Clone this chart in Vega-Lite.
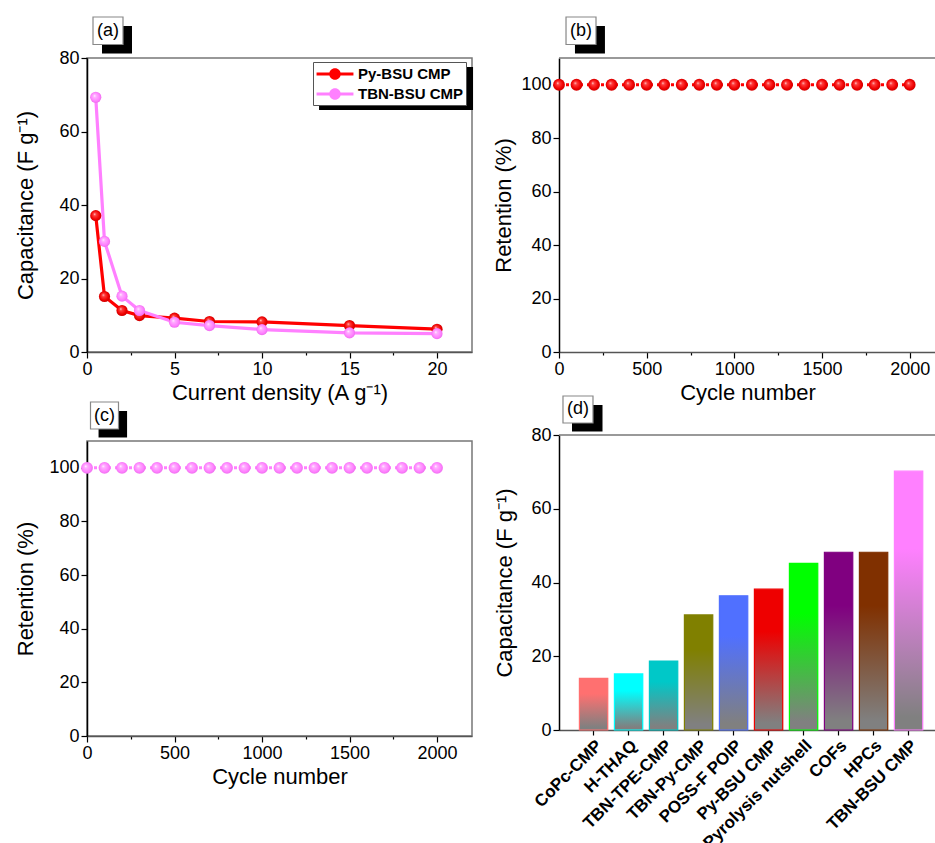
{
  "$schema": "https://vega.github.io/schema/vega-lite/v6.json",
  "padding": {"left": 14, "top": 15, "right": 0, "bottom": 0},
  "config": {
    "font": "Liberation Sans",
    "view": {"stroke": "#777", "strokeWidth": 1.5},
    "axis": {"grid": false, "labelFont": "Liberation Sans", "labelFontSize": 18, "labelColor": "#000", "titleFont": "Liberation Sans", "titleFontSize": 22, "titleFontWeight": "normal", "titleColor": "#000", "tickColor": "#000", "domainColor": "#000", "domainWidth": 1.5, "tickWidth": 1.2, "labelPadding": 2, "labelFlush": false, "labelOverlap": false},
    "axisX": {"domainColor": "#555", "titlePadding": 4}
  },
  "resolve": {"scale": {"color": "independent", "stroke": "independent", "fill": "independent"}, "legend": {"color": "independent"}},
  "datasets": {
    "rate": [
      {"cur": 0.5, "cap": 37.1, "series": "Py-BSU CMP"},
      {"cur": 1, "cap": 15.1, "series": "Py-BSU CMP"},
      {"cur": 2, "cap": 11.3, "series": "Py-BSU CMP"},
      {"cur": 3, "cap": 9.9, "series": "Py-BSU CMP"},
      {"cur": 5, "cap": 9.2, "series": "Py-BSU CMP"},
      {"cur": 7, "cap": 8.3, "series": "Py-BSU CMP"},
      {"cur": 10, "cap": 8.2, "series": "Py-BSU CMP"},
      {"cur": 15, "cap": 7.2, "series": "Py-BSU CMP"},
      {"cur": 20, "cap": 6.2, "series": "Py-BSU CMP"},
      {"cur": 0.5, "cap": 69.3, "series": "TBN-BSU CMP"},
      {"cur": 1, "cap": 30.1, "series": "TBN-BSU CMP"},
      {"cur": 2, "cap": 15.2, "series": "TBN-BSU CMP"},
      {"cur": 3, "cap": 11.3, "series": "TBN-BSU CMP"},
      {"cur": 5, "cap": 8.1, "series": "TBN-BSU CMP"},
      {"cur": 7, "cap": 7.2, "series": "TBN-BSU CMP"},
      {"cur": 10, "cap": 6.1, "series": "TBN-BSU CMP"},
      {"cur": 15, "cap": 5.2, "series": "TBN-BSU CMP"},
      {"cur": 20, "cap": 5.0, "series": "TBN-BSU CMP"}
    ],
    "cyc": [
      {"cycle": 0, "ret": 100}, {"cycle": 100, "ret": 100}, {"cycle": 200, "ret": 100}, {"cycle": 300, "ret": 100},
      {"cycle": 400, "ret": 100}, {"cycle": 500, "ret": 100}, {"cycle": 600, "ret": 100}, {"cycle": 700, "ret": 100},
      {"cycle": 800, "ret": 100}, {"cycle": 900, "ret": 100}, {"cycle": 1000, "ret": 100}, {"cycle": 1100, "ret": 100},
      {"cycle": 1200, "ret": 100}, {"cycle": 1300, "ret": 100}, {"cycle": 1400, "ret": 100}, {"cycle": 1500, "ret": 100},
      {"cycle": 1600, "ret": 100}, {"cycle": 1700, "ret": 100}, {"cycle": 1800, "ret": 100}, {"cycle": 1900, "ret": 100},
      {"cycle": 2000, "ret": 100}
    ],
    "bars": [
      {"material": "CoPc-CMP", "cap": 14.0},
      {"material": "H-THAQ", "cap": 15.2},
      {"material": "TBN-TPE-CMP", "cap": 18.7},
      {"material": "TBN-Py-CMP", "cap": 31.2},
      {"material": "POSS-F POIP", "cap": 36.4},
      {"material": "Py-BSU CMP", "cap": 38.2},
      {"material": "Pyrolysis nutshell", "cap": 45.2},
      {"material": "COFs", "cap": 48.2},
      {"material": "HPCs", "cap": 48.2},
      {"material": "TBN-BSU CMP", "cap": 70.2}
    ],
    "one": [{}]
  },
  "spacing": 18,
  "hconcat": [
    {
      "spacing": -4,
      "vconcat": [
        {
          "width": 385, "height": 294,
          "layer": [
            {
              "data": {"name": "rate"},
              "mark": {"type": "line", "strokeWidth": 3.2},
              "encoding": {
                "x": {"field": "cur", "type": "quantitative", "scale": {"domain": [0, 22]},
                  "axis": {"title": "Current density (A g⁻¹)", "values": [0, 2.5, 5, 7.5, 10, 12.5, 15, 17.5, 20], "labelExpr": "datum.value % 5 === 0 ? datum.label : ''", "tickSize": {"condition": {"test": "datum.value % 5 !== 0", "value": 3}, "value": 6}}},
                "y": {"field": "cap", "type": "quantitative", "scale": {"domain": [0, 80]},
                  "axis": {"title": "Capacitance (F g⁻¹)", "titlePadding": 21, "values": [0, 10, 20, 30, 40, 50, 60, 70, 80], "labelExpr": "datum.value % 20 === 0 ? datum.label : ''", "tickSize": {"condition": {"test": "datum.value % 20 !== 0", "value": 3}, "value": 6}}},
                "color": {"field": "series", "type": "nominal", "scale": {"domain": ["Py-BSU CMP", "TBN-BSU CMP"], "range": ["#ff0000", "#ff80ff"]},
                  "legend": {"title": null, "orient": "none", "legendX": 226, "legendY": 4, "symbolType": "M-2.05,-0.17H2.05V0.17H-2.05Z M-0.64,0A0.64,0.64,0,1,1,0.64,0A0.64,0.64,0,1,1,-0.64,0Z", "symbolSize": 324, "symbolStrokeWidth": 0, "symbolOffset": 10, "labelOffset": 14, "labelFont": "Liberation Sans", "labelFontSize": 15, "labelFontWeight": "bold", "labelColor": "#000", "strokeColor": "#555", "fillColor": "#fff", "padding": 3, "rowPadding": 3,
                    "encode": {"symbols": {"update": {"fill": {"signal": "datum.value === 'Py-BSU CMP' ? '#ff0000' : '#ff80ff'"}, "opacity": {"value": 1}}}}}}
              }
            },
            {
              "data": {"name": "rate"},
              "mark": {"type": "point", "filled": true, "size": 125, "opacity": 1, "strokeWidth": 0},
              "encoding": {
                "x": {"field": "cur", "type": "quantitative", "scale": {"domain": [0, 22]}},
                "y": {"field": "cap", "type": "quantitative", "scale": {"domain": [0, 80]}},
                "fill": {"condition": {"test": "datum.series === 'Py-BSU CMP'", "value": {"gradient": "radial", "x1": 0.38, "y1": 0.35, "r1": 0, "x2": 0.5, "y2": 0.5, "r2": 0.55, "stops": [{"offset": 0, "color": "#ffe0e0"}, {"offset": 0.22, "color": "#ff4040"}, {"offset": 0.7, "color": "#f00000"}, {"offset": 1, "color": "#c00000"}]}},
                  "value": {"gradient": "radial", "x1": 0.38, "y1": 0.35, "r1": 0, "x2": 0.5, "y2": 0.5, "r2": 0.55, "stops": [{"offset": 0, "color": "#ffffff"}, {"offset": 0.22, "color": "#ffb0ff"}, {"offset": 0.7, "color": "#ff80ff"}, {"offset": 1, "color": "#e868e8"}]}}
              }
            },
            {
              "data": {"name": "one"},
              "mark": {"type": "rect", "fill": "#000"},
              "encoding": {"x": {"datum": 13.26, "type": "quantitative", "scale": {"domain": [0, 22]}}, "x2": {"datum": 22.06}, "y": {"datum": 77.55, "type": "quantitative", "scale": {"domain": [0, 80]}}, "y2": {"datum": 65.85}}
            },
            {
              "data": {"name": "one"},
              "mark": {"type": "rect", "fill": "#000"},
              "encoding": {"x": {"datum": 0.857, "type": "quantitative", "scale": {"domain": [0, 22]}}, "x2": {"datum": 2.571}, "y": {"datum": 88.71, "type": "quantitative", "scale": {"domain": [0, 80]}}, "y2": {"datum": 81.22}}
            },
            {
              "data": {"name": "one"},
              "mark": {"type": "rect", "fill": "#fff", "stroke": "#888", "strokeWidth": 1.2},
              "encoding": {"x": {"datum": 0.343, "type": "quantitative", "scale": {"domain": [0, 22]}}, "x2": {"datum": 2.057}, "y": {"datum": 91.16, "type": "quantitative", "scale": {"domain": [0, 80]}}, "y2": {"datum": 83.67}}
            },
            {
              "data": {"name": "one"},
              "mark": {"type": "text", "text": "(a)", "font": "Liberation Sans", "fontSize": 18, "align": "center", "baseline": "middle", "color": "#000"},
              "encoding": {"x": {"datum": 1.2, "type": "quantitative", "scale": {"domain": [0, 22]}}, "y": {"datum": 87.35, "type": "quantitative", "scale": {"domain": [0, 80]}}}
            }
          ]
        },
        {
          "width": 385, "height": 295,
          "layer": [
            {
              "data": {"name": "cyc"},
              "mark": {"type": "line", "strokeWidth": 3, "strokeDash": [3, 4], "color": "#ff80ff"},
              "encoding": {
                "x": {"field": "cycle", "type": "quantitative", "scale": {"domain": [0, 2200]},
                  "axis": {"title": "Cycle number", "format": "d", "values": [0, 250, 500, 750, 1000, 1250, 1500, 1750, 2000], "labelExpr": "datum.value % 500 === 0 ? datum.label : ''", "tickSize": {"condition": {"test": "datum.value % 500 !== 0", "value": 3}, "value": 6}}},
                "y": {"field": "ret", "type": "quantitative", "scale": {"domain": [0, 110]},
                  "axis": {"title": "Retention (%)", "titlePadding": 11, "values": [0, 10, 20, 30, 40, 50, 60, 70, 80, 90, 100], "labelExpr": "datum.value % 20 === 0 ? datum.label : ''", "tickSize": {"condition": {"test": "datum.value % 20 !== 0", "value": 3}, "value": 6}}}
              }
            },
            {
              "data": {"name": "cyc"},
              "mark": {"type": "point", "filled": true, "size": 140, "opacity": 1, "strokeWidth": 0,
                "fill": {"gradient": "radial", "x1": 0.38, "y1": 0.35, "r1": 0, "x2": 0.5, "y2": 0.5, "r2": 0.55, "stops": [{"offset": 0, "color": "#ffffff"}, {"offset": 0.22, "color": "#ffb0ff"}, {"offset": 0.7, "color": "#ff80ff"}, {"offset": 1, "color": "#e868e8"}]}},
              "encoding": {
                "x": {"field": "cycle", "type": "quantitative", "scale": {"domain": [0, 2200]}},
                "y": {"field": "ret", "type": "quantitative", "scale": {"domain": [0, 110]}}
              }
            },
            {
              "data": {"name": "one"},
              "mark": {"type": "rect", "fill": "#000"},
              "encoding": {"x": {"datum": 66, "type": "quantitative", "scale": {"domain": [0, 2200]}}, "x2": {"datum": 229}, "y": {"datum": 121.19, "type": "quantitative", "scale": {"domain": [0, 110]}}, "y2": {"datum": 111.31}}
            },
            {
              "data": {"name": "one"},
              "mark": {"type": "rect", "fill": "#fff", "stroke": "#888", "strokeWidth": 1.2},
              "encoding": {"x": {"datum": 20, "type": "quantitative", "scale": {"domain": [0, 2200]}}, "x2": {"datum": 180}, "y": {"datum": 124.54, "type": "quantitative", "scale": {"domain": [0, 110]}}, "y2": {"datum": 114.47}}
            },
            {
              "data": {"name": "one"},
              "mark": {"type": "text", "text": "(c)", "font": "Liberation Sans", "fontSize": 18, "align": "center", "baseline": "middle", "color": "#000"},
              "encoding": {"x": {"datum": 100, "type": "quantitative", "scale": {"domain": [0, 2200]}}, "y": {"datum": 119.5, "type": "quantitative", "scale": {"domain": [0, 110]}}}
            }
          ]
        }
      ]
    },
    {
      "spacing": -8,
      "vconcat": [
        {
          "width": 377, "height": 294,
          "view": {"stroke": null},
          "layer": [
            {
              "data": {"name": "one"},
              "mark": {"type": "rule", "color": "#777", "strokeWidth": 1.5},
              "encoding": {"y": {"datum": 110, "type": "quantitative", "scale": {"domain": [0, 110]}}}
            },
            {
              "data": {"name": "cyc"},
              "mark": {"type": "line", "strokeWidth": 3, "strokeDash": [3, 4], "color": "#ff0000"},
              "encoding": {
                "x": {"field": "cycle", "type": "quantitative", "scale": {"domain": [0, 2150]},
                  "axis": {"title": "Cycle number", "format": "d", "values": [0, 250, 500, 750, 1000, 1250, 1500, 1750, 2000], "labelExpr": "datum.value % 500 === 0 ? datum.label : ''", "tickSize": {"condition": {"test": "datum.value % 500 !== 0", "value": 3}, "value": 6}}},
                "y": {"field": "ret", "type": "quantitative", "scale": {"domain": [0, 110]},
                  "axis": {"title": "Retention (%)", "titlePadding": 5, "values": [0, 10, 20, 30, 40, 50, 60, 70, 80, 90, 100], "labelExpr": "datum.value % 20 === 0 ? datum.label : ''", "tickSize": {"condition": {"test": "datum.value % 20 !== 0", "value": 3}, "value": 6}}}
              }
            },
            {
              "data": {"name": "cyc"},
              "mark": {"type": "point", "filled": true, "size": 140, "opacity": 1, "strokeWidth": 0,
                "fill": {"gradient": "radial", "x1": 0.38, "y1": 0.35, "r1": 0, "x2": 0.5, "y2": 0.5, "r2": 0.55, "stops": [{"offset": 0, "color": "#ffe0e0"}, {"offset": 0.22, "color": "#ff4040"}, {"offset": 0.7, "color": "#f00000"}, {"offset": 1, "color": "#c00000"}]}},
              "encoding": {
                "x": {"field": "cycle", "type": "quantitative", "scale": {"domain": [0, 2150]}},
                "y": {"field": "ret", "type": "quantitative", "scale": {"domain": [0, 110]}}
              }
            },
            {
              "data": {"name": "one"},
              "mark": {"type": "rect", "fill": "#000"},
              "encoding": {"x": {"datum": 91, "type": "quantitative", "scale": {"domain": [0, 2150]}}, "x2": {"datum": 262}, "y": {"datum": 121.97, "type": "quantitative", "scale": {"domain": [0, 110]}}, "y2": {"datum": 111.68}}
            },
            {
              "data": {"name": "one"},
              "mark": {"type": "rect", "fill": "#fff", "stroke": "#888", "strokeWidth": 1.2},
              "encoding": {"x": {"datum": 40, "type": "quantitative", "scale": {"domain": [0, 2150]}}, "x2": {"datum": 211}, "y": {"datum": 125.34, "type": "quantitative", "scale": {"domain": [0, 110]}}, "y2": {"datum": 115.05}}
            },
            {
              "data": {"name": "one"},
              "mark": {"type": "text", "text": "(b)", "font": "Liberation Sans", "fontSize": 18, "align": "center", "baseline": "middle", "color": "#000"},
              "encoding": {"x": {"datum": 125.5, "type": "quantitative", "scale": {"domain": [0, 2150]}}, "y": {"datum": 120.1, "type": "quantitative", "scale": {"domain": [0, 110]}}}
            }
          ]
        },
        {
          "width": 376, "height": 295,
          "view": {"stroke": null},
          "resolve": {"scale": {"x": "independent"}},
          "layer": [
            {
              "data": {"name": "bars"},
              "layer": [
                {
                  "mark": {"type": "bar"},
                  "encoding": {
                    "x": {"field": "material", "type": "nominal", "sort": null, "scale": {"paddingInner": 0.19, "paddingOuter": 0.4665, "align": 0.625},
                      "axis": {"title": null, "labelAngle": -45, "labelFontWeight": "bold", "labelFontSize": 17, "tickSize": 5, "labelPadding": 2}},
                    "y": {"field": "cap", "type": "quantitative", "scale": {"domain": [0, 80]},
                      "axis": {"title": "Capacitance (F g⁻¹)", "titlePadding": 14, "values": [0, 10, 20, 30, 40, 50, 60, 70, 80], "labelExpr": "datum.value % 20 === 0 ? datum.label : ''", "tickSize": {"condition": {"test": "datum.value % 20 !== 0", "value": 3}, "value": 6}}},
                    "color": {"field": "material", "type": "nominal", "scale": {"domain": ["CoPc-CMP", "H-THAQ", "TBN-TPE-CMP", "TBN-Py-CMP", "POSS-F POIP", "Py-BSU CMP", "Pyrolysis nutshell", "COFs", "HPCs", "TBN-BSU CMP"], "range": ["#ff7070", "#00ffff", "#00c8c8", "#808000", "#5070ff", "#ee0000", "#00ff00", "#800080", "#803000", "#ff80ff"]}, "legend": null}
                  }
                },
                {
                  "mark": {"type": "bar", "strokeWidth": 1.2, "fill": {"gradient": "linear", "x1": 0, "y1": 0, "x2": 0, "y2": 1, "stops": [{"offset": 0, "color": "rgba(128,128,128,0)"}, {"offset": 0.3, "color": "rgba(128,128,128,0)"}, {"offset": 0.95, "color": "rgba(128,128,128,1)"}, {"offset": 1, "color": "rgba(128,128,128,1)"}]}},
                  "encoding": {
                    "x": {"field": "material", "type": "nominal", "sort": null},
                    "y": {"field": "cap", "type": "quantitative", "scale": {"domain": [0, 80]}},
                    "stroke": {"field": "material", "type": "nominal", "scale": {"domain": ["CoPc-CMP", "H-THAQ", "TBN-TPE-CMP", "TBN-Py-CMP", "POSS-F POIP", "Py-BSU CMP", "Pyrolysis nutshell", "COFs", "HPCs", "TBN-BSU CMP"], "range": ["#ff7070", "#00ffff", "#00c8c8", "#808000", "#5070ff", "#ee0000", "#00ff00", "#800080", "#803000", "#ff80ff"]}, "legend": null}
                  }
                }
              ]
            },
            {
              "data": {"name": "one"},
              "layer": [
                {
                  "mark": {"type": "rule", "color": "#777", "strokeWidth": 1.5},
                  "encoding": {"y": {"datum": 80, "type": "quantitative", "scale": {"domain": [0, 80]}}}
                },
                {
                  "mark": {"type": "rect", "fill": "#000"},
                  "encoding": {"x": {"datum": 0.346, "type": "quantitative", "scale": {"domain": [0, 10]}, "axis": null}, "x2": {"datum": 1.157}, "y": {"datum": 88.14, "type": "quantitative", "scale": {"domain": [0, 80]}}, "y2": {"datum": 80.95}}
                },
                {
                  "mark": {"type": "rect", "fill": "#fff", "stroke": "#888", "strokeWidth": 1.2},
                  "encoding": {"x": {"datum": 0.106, "type": "quantitative", "scale": {"domain": [0, 10]}, "axis": null}, "x2": {"datum": 0.904}, "y": {"datum": 90.58, "type": "quantitative", "scale": {"domain": [0, 80]}}, "y2": {"datum": 83.25}}
                },
                {
                  "mark": {"type": "text", "text": "(d)", "font": "Liberation Sans", "fontSize": 18, "align": "center", "baseline": "middle", "color": "#000"},
                  "encoding": {"x": {"datum": 0.505, "type": "quantitative", "scale": {"domain": [0, 10]}, "axis": null}, "y": {"datum": 86.92, "type": "quantitative", "scale": {"domain": [0, 80]}}}
                }
              ]
            }
          ]
        }
      ]
    }
  ]
}
